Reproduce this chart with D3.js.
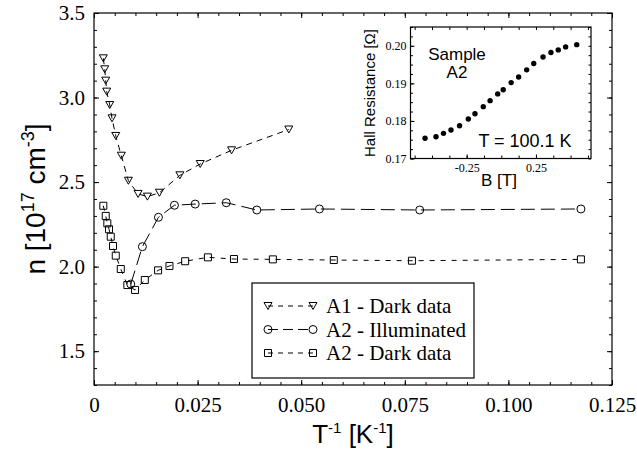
<!DOCTYPE html>
<html>
<head>
<meta charset="utf-8">
<script src="https://cdn.jsdelivr.net/npm/d3@7"></script>
<style>
  body { margin: 0; background: #fff; }
  svg { display: block; }
</style>
</head>
<body>
<script>
// main plot: carrier density vs inverse temperature
const a1X = [0.00225, 0.00259, 0.00283, 0.00307, 0.0038, 0.00435, 0.00525, 0.0066, 0.0083, 0.01064, 0.01289, 0.01579, 0.02072, 0.02563, 0.0332, 0.0470];
const a1N = [3.232, 3.167, 3.100, 3.035, 2.956, 2.877, 2.773, 2.656, 2.508, 2.430, 2.414, 2.437, 2.540, 2.607, 2.688, 2.811];

const a2IllX = [0.00887, 0.01168, 0.01555, 0.01941, 0.02442, 0.03191, 0.03929, 0.0544, 0.0786, 0.1175];
const a2IllN = [1.897, 2.118, 2.292, 2.363, 2.370, 2.378, 2.335, 2.341, 2.335, 2.341];

const a2DarkX = [0.00225, 0.00283, 0.00322, 0.00363, 0.00404, 0.00459, 0.00525, 0.00646, 0.00805, 0.00991, 0.01226, 0.01547, 0.01821, 0.022, 0.02749, 0.03378, 0.04316, 0.05786, 0.07672, 0.1175];
const a2DarkN = [2.360, 2.300, 2.256, 2.221, 2.177, 2.122, 2.065, 1.986, 1.891, 1.862, 1.921, 1.978, 2.004, 2.032, 2.055, 2.045, 2.043, 2.039, 2.035, 2.043];

const xTicks = [0, 0.025, 0.05, 0.075, 0.1, 0.125];
const xTickLabels = ['0', '0.025', '0.050', '0.075', '0.100', '0.125'];
const yTicks = [1.5, 2.0, 2.5, 3.0, 3.5];
const yTickLabels = ['1.5', '2.0', '2.5', '3.0', '3.5'];

const legendLabels = ['A1 - Dark data', 'A2 - Illuminated', 'A2 - Dark data'];

// inset: Hall resistance vs field
const insetB = [-0.550, -0.471, -0.417, -0.363, -0.301, -0.238, -0.190, -0.130, -0.081, -0.026, 0.014, 0.071, 0.125, 0.183, 0.234, 0.301, 0.358, 0.411, 0.464, 0.544];
const insetR = [0.1754, 0.1758, 0.1767, 0.1776, 0.1787, 0.1805, 0.1819, 0.1838, 0.1854, 0.1872, 0.1883, 0.1902, 0.1917, 0.1936, 0.1953, 0.1970, 0.1982, 0.1989, 0.1997, 0.2003];
const insetBTicks = [-0.25, 0.25];
const insetBTickLabels = ['-0.25', '0.25'];
const insetRTicks = [0.17, 0.18, 0.19, 0.20];
const insetRTickLabels = ['0.17', '0.18', '0.19', '0.20'];

const width = 637, height = 455;
const serif = 'Liberation Serif', sans = 'Liberation Sans';

const svg = d3.select('body').append('svg')
  .attr('width', width)
  .attr('height', height);

svg.append('rect').attr('width', width).attr('height', height).attr('fill', '#fff');

const x = d3.scaleLinear().domain([0, 0.125]).range([94, 612]);
const y = d3.scaleLinear().domain([1.3, 3.5]).range([385, 13]);

const xMinor = d3.range(0, 0.1251, 0.005);
const yMinor = d3.range(1.3, 3.501, 0.1);

function noDomain(g) { g.select('.domain').remove(); }

// ticks on all four sides, pointing inward
svg.append('g').attr('transform', 'translate(0,385)')
  .call(d3.axisBottom(x).tickValues(xMinor).tickSize(-3).tickFormat('')).call(noDomain);
svg.append('g').attr('transform', 'translate(0,13)')
  .call(d3.axisTop(x).tickValues(xMinor).tickSize(-3).tickFormat('')).call(noDomain);
svg.append('g').attr('transform', 'translate(94,0)')
  .call(d3.axisLeft(y).tickValues(yMinor).tickSize(-3).tickFormat('')).call(noDomain);
svg.append('g').attr('transform', 'translate(612,0)')
  .call(d3.axisRight(y).tickValues(yMinor).tickSize(-3).tickFormat('')).call(noDomain);

svg.append('g').attr('transform', 'translate(0,385)')
  .call(d3.axisBottom(x).tickValues(xTicks).tickSize(-5).tickPadding(12)
    .tickFormat((d, i) => xTickLabels[i]))
  .call(noDomain)
  .call(g => g.selectAll('text').attr('font-family', serif).attr('font-size', 21).attr('fill', '#000'));
svg.append('g').attr('transform', 'translate(0,13)')
  .call(d3.axisTop(x).tickValues(xTicks).tickSize(-5).tickFormat('')).call(noDomain);
svg.append('g').attr('transform', 'translate(94,0)')
  .call(d3.axisLeft(y).tickValues(yTicks).tickSize(-5).tickPadding(9)
    .tickFormat((d, i) => yTickLabels[i]))
  .call(noDomain)
  .call(g => g.selectAll('text').attr('font-family', serif).attr('font-size', 21).attr('fill', '#000'));
svg.append('g').attr('transform', 'translate(612,0)')
  .call(d3.axisRight(y).tickValues(yTicks).tickSize(-5).tickFormat('')).call(noDomain);

svg.append('rect')
  .attr('x', 94).attr('y', 13).attr('width', 612 - 94).attr('height', 385 - 13)
  .attr('fill', 'none').attr('stroke', '#000').attr('stroke-width', 1.2);

// axis titles
const yTitle = svg.append('text')
  .attr('transform', 'translate(45,199) rotate(-90)')
  .attr('text-anchor', 'middle')
  .attr('font-family', sans).attr('font-size', 28);
yTitle.append('tspan').text('n [10');
yTitle.append('tspan').attr('dy', -11).attr('font-size', 18).text('17');
yTitle.append('tspan').attr('dy', 11).text(' cm');
yTitle.append('tspan').attr('dy', -11).attr('font-size', 18).text('-3');
yTitle.append('tspan').attr('dy', 11).text(']');

const xTitle = svg.append('text')
  .attr('x', 353).attr('y', 443)
  .attr('text-anchor', 'middle')
  .attr('font-family', sans).attr('font-size', 26);
xTitle.append('tspan').text('T');
xTitle.append('tspan').attr('dy', -10).attr('font-size', 15).text('-1');
xTitle.append('tspan').attr('dy', 10).text(' [K');
xTitle.append('tspan').attr('dy', -10).attr('font-size', 15).text('-1');
xTitle.append('tspan').attr('dy', 10).text(']');

// markers
const triDown = 'M-4,-3.5L4,-3.5L0,3.5Z';
const square = 'M-3.5,-3.5H3.5V3.5H-3.5Z';

const series = [
  { xs: a1X, ys: a1N, dash: '6,5', marker: 'tri' },
  { xs: a2IllX, ys: a2IllN, dash: '14,6', marker: 'circle' },
  { xs: a2DarkX, ys: a2DarkN, dash: '5,6', marker: 'square' }
];

const line = d3.line().x(d => x(d[0])).y(d => y(d[1]));

function drawMarker(sel, kind) {
  if (kind === 'circle') {
    sel.append('circle').attr('r', 4).attr('fill', 'none').attr('stroke', '#000').attr('stroke-width', 1);
  } else {
    sel.append('path').attr('d', kind === 'tri' ? triDown : square)
      .attr('fill', 'none').attr('stroke', '#000').attr('stroke-width', 1);
  }
}

series.forEach(s => {
  const pts = s.xs.map((v, i) => [v, s.ys[i]]);
  svg.append('path')
    .attr('d', line(pts))
    .attr('fill', 'none')
    .attr('stroke', '#000')
    .attr('stroke-width', 1)
    .attr('stroke-dasharray', s.dash);
  svg.selectAll(null)
    .data(pts)
    .enter().append('g')
    .attr('transform', d => 'translate(' + x(d[0]) + ',' + y(d[1]) + ')')
    .each(function () { drawMarker(d3.select(this), s.marker); });
});

// legend
const legend = svg.append('g');
legend.append('rect')
  .attr('x', 252).attr('y', 283).attr('width', 222).attr('height', 95)
  .attr('fill', '#fff').attr('stroke', '#000').attr('stroke-width', 1.2);
series.forEach((s, i) => {
  const ly = 306 + i * 23.5;
  legend.append('line')
    .attr('x1', 268).attr('x2', 313).attr('y1', ly).attr('y2', ly)
    .attr('stroke', '#000').attr('stroke-width', 1).attr('stroke-dasharray', s.dash === '14,6' ? '10,5' : '5,5');
  [268, 313].forEach(mx => {
    const g = legend.append('g').attr('transform', 'translate(' + mx + ',' + ly + ')');
    drawMarker(g, s.marker);
  });
  legend.append('text')
    .attr('x', 326).attr('y', ly + 7)
    .attr('font-family', serif).attr('font-size', 21)
    .text(legendLabels[i]);
});

// inset
const ix = d3.scaleLinear().domain([-0.655, 0.647]).range([410.5, 591]);
const iy = d3.scaleLinear().domain([0.17, 0.205]).range([158.5, 27]);

svg.append('rect')
  .attr('x', 410.5).attr('y', 27).attr('width', 591 - 410.5).attr('height', 158.5 - 27)
  .attr('fill', '#fff');

const bMinor = d3.range(-0.625, 0.626, 0.125);
const rMinor = d3.range(0.17, 0.2051, 0.0025);

svg.append('g').attr('transform', 'translate(0,158.5)')
  .call(d3.axisBottom(ix).tickValues(bMinor).tickSize(-3).tickFormat('')).call(noDomain);
svg.append('g').attr('transform', 'translate(0,27)')
  .call(d3.axisTop(ix).tickValues(bMinor).tickSize(-3).tickFormat('')).call(noDomain);
svg.append('g').attr('transform', 'translate(410.5,0)')
  .call(d3.axisLeft(iy).tickValues(rMinor).tickSize(-2.5).tickFormat('')).call(noDomain);
svg.append('g').attr('transform', 'translate(591,0)')
  .call(d3.axisRight(iy).tickValues(rMinor).tickSize(-2.5).tickFormat('')).call(noDomain);

svg.append('g').attr('transform', 'translate(0,158.5)')
  .call(d3.axisBottom(ix).tickValues(insetBTicks).tickSize(-4).tickPadding(5)
    .tickFormat((d, i) => insetBTickLabels[i]))
  .call(noDomain)
  .call(g => g.selectAll('text').attr('font-family', serif).attr('font-size', 12).attr('fill', '#000'));
svg.append('g').attr('transform', 'translate(410.5,0)')
  .call(d3.axisLeft(iy).tickValues(insetRTicks).tickSize(-4).tickPadding(4)
    .tickFormat((d, i) => insetRTickLabels[i]))
  .call(noDomain)
  .call(g => g.selectAll('text').attr('font-family', serif).attr('font-size', 12).attr('fill', '#000'));

svg.append('rect')
  .attr('x', 410.5).attr('y', 27).attr('width', 591 - 410.5).attr('height', 158.5 - 27)
  .attr('fill', 'none').attr('stroke', '#000').attr('stroke-width', 1.2);

svg.selectAll('.idot')
  .data(insetB.map((b, i) => [b, insetR[i]]))
  .enter().append('circle')
  .attr('class', 'idot')
  .attr('cx', d => ix(d[0]))
  .attr('cy', d => iy(d[1]))
  .attr('r', 2.7)
  .attr('fill', '#000');

svg.append('text')
  .attr('transform', 'translate(375,93) rotate(-90)')
  .attr('text-anchor', 'middle')
  .attr('font-family', sans).attr('font-size', 15)
  .text('Hall Resistance [\u03A9]');

svg.append('text')
  .attr('x', 499).attr('y', 186)
  .attr('text-anchor', 'middle')
  .attr('font-family', sans).attr('font-size', 17)
  .text('B [T]');

svg.append('text')
  .attr('x', 457).attr('y', 60)
  .attr('text-anchor', 'middle')
  .attr('font-family', sans).attr('font-size', 17)
  .text('Sample');
svg.append('text')
  .attr('x', 457).attr('y', 78)
  .attr('text-anchor', 'middle')
  .attr('font-family', sans).attr('font-size', 17)
  .text('A2');

svg.append('text')
  .attr('x', 525).attr('y', 147)
  .attr('text-anchor', 'middle')
  .attr('font-family', sans).attr('font-size', 18)
  .text('T = 100.1 K');
</script>
</body>
</html>
